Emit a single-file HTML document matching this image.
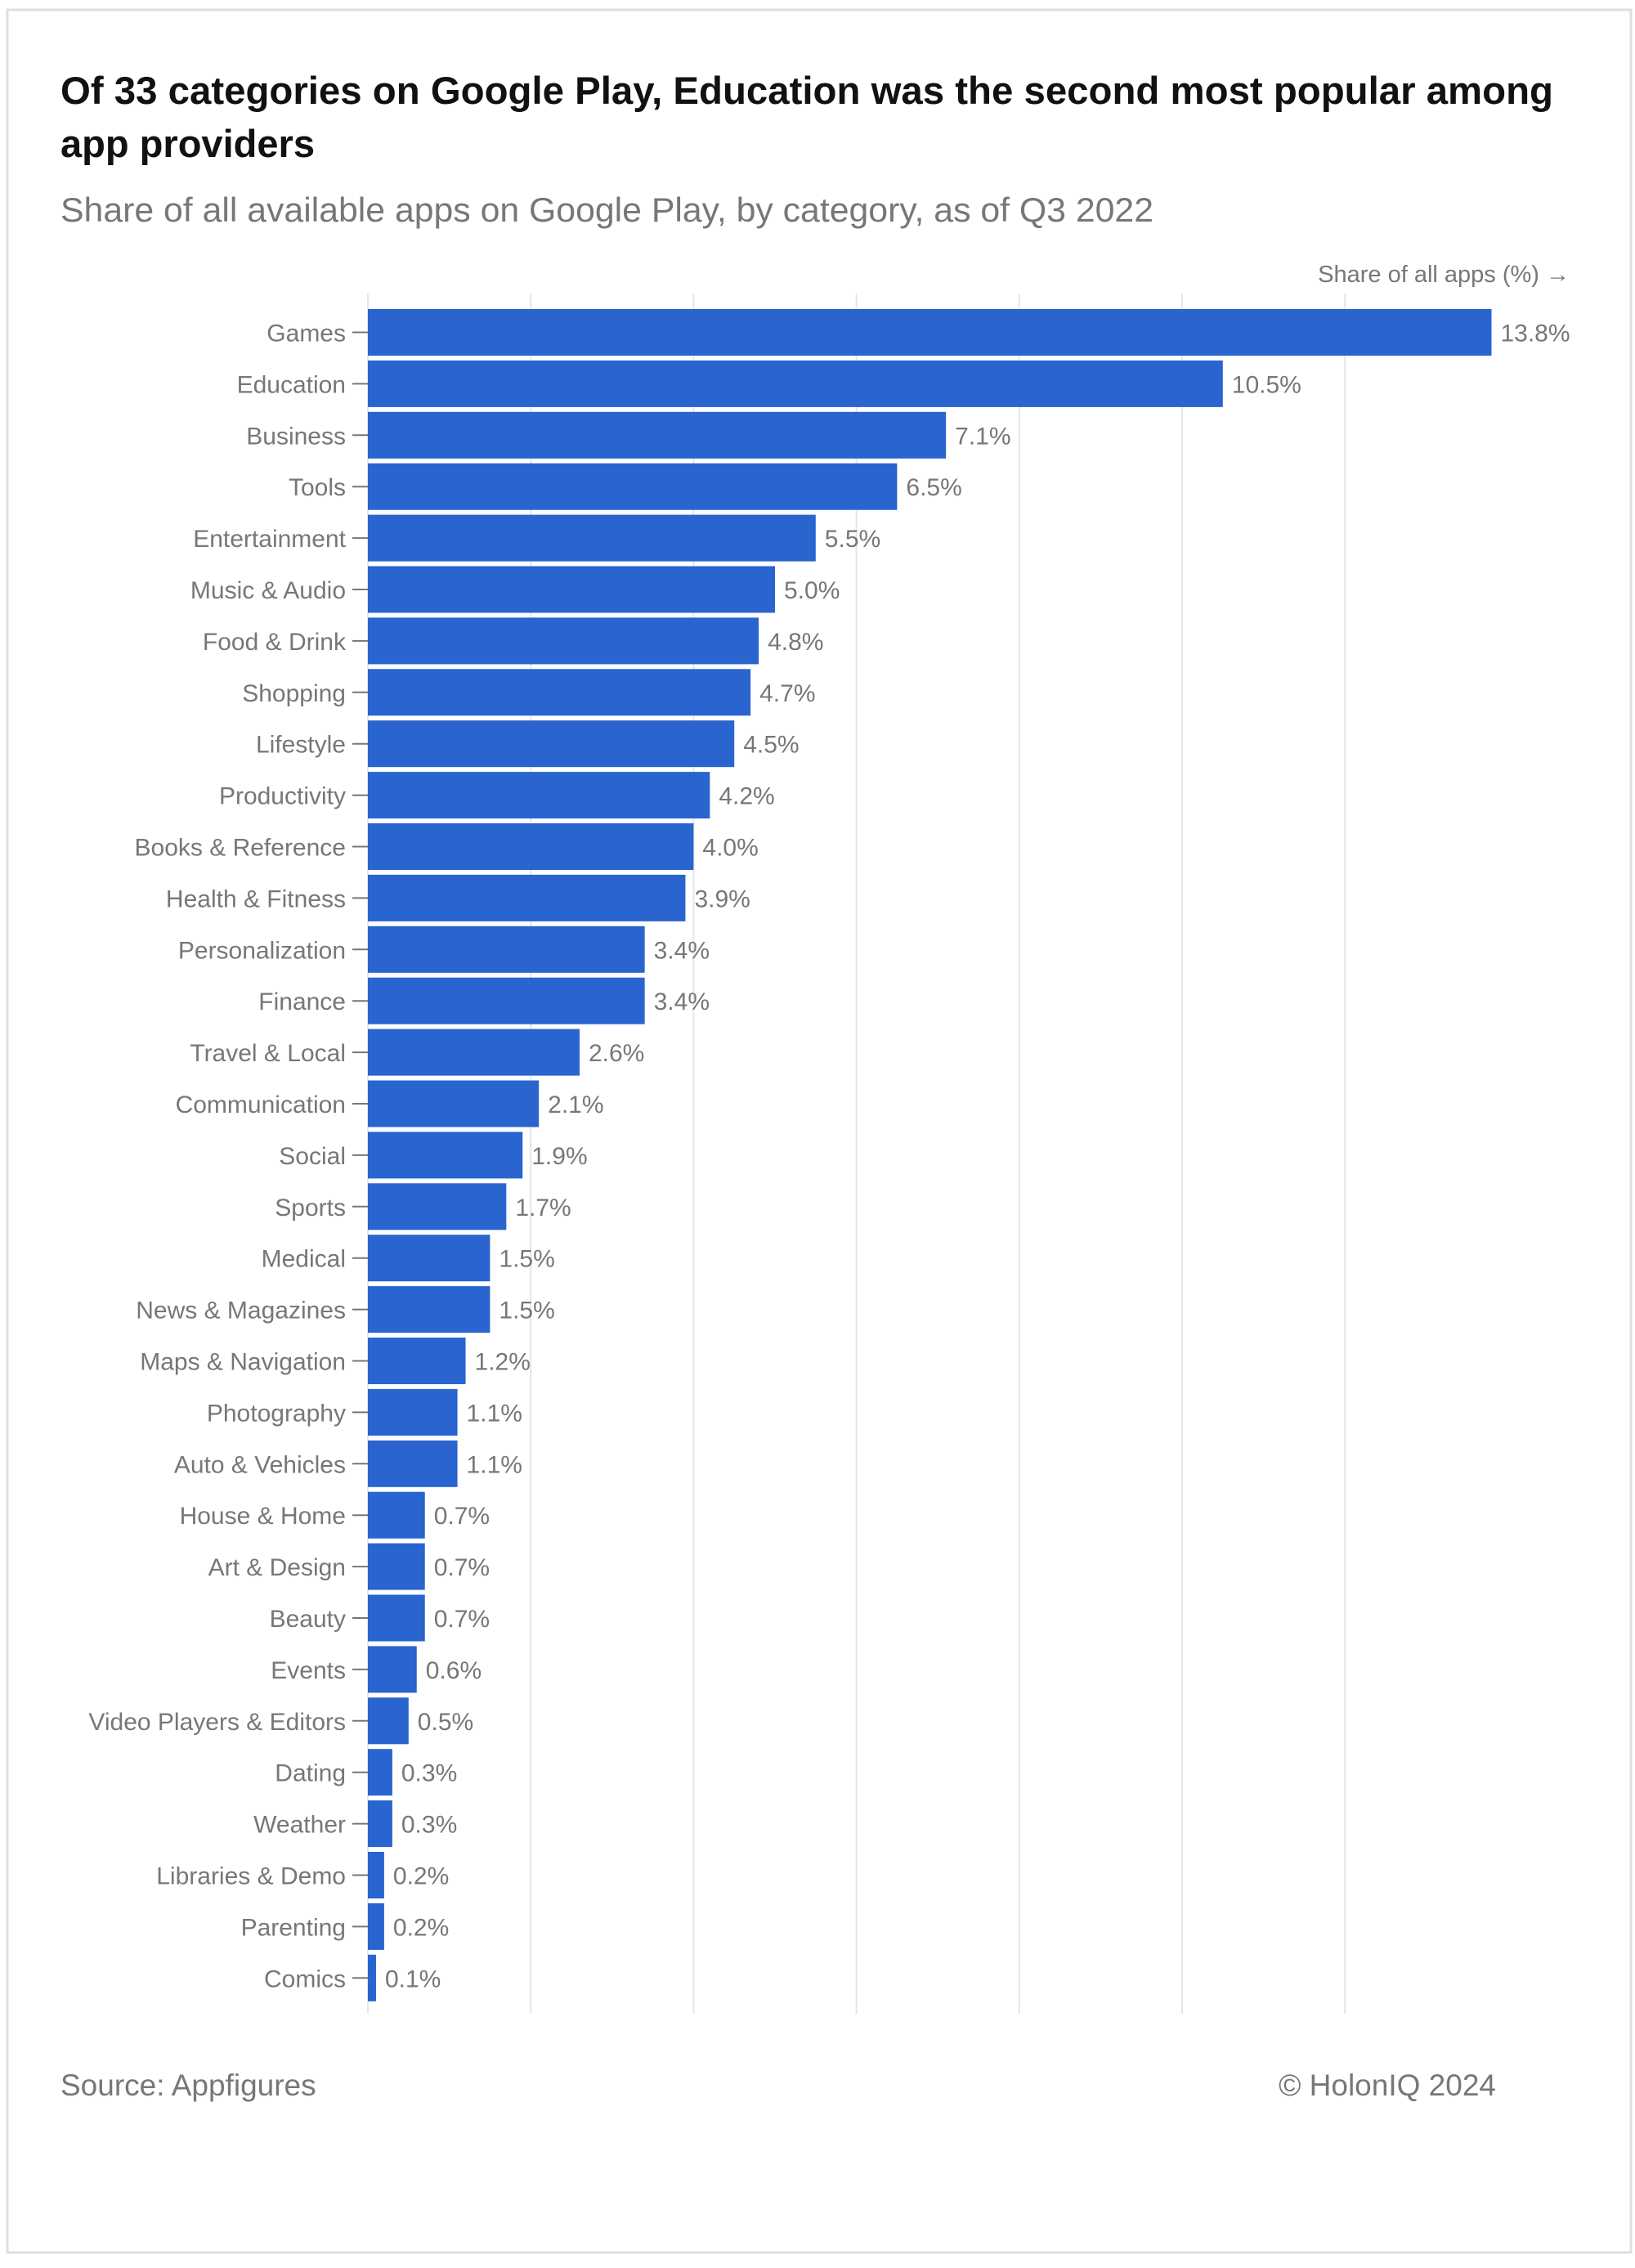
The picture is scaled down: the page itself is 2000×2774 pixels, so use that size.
<!DOCTYPE html>
<html><head><meta charset="utf-8"><style>
html,body{margin:0;padding:0;background:#fff;}
body{width:2000px;height:2769px;position:relative;overflow:hidden;font-family:"Liberation Sans",sans-serif;}
</style></head><body>
<svg width="2000" height="2769" xmlns="http://www.w3.org/2000/svg">
<rect x="9" y="12" width="1986" height="2743" fill="#fff" stroke="#dedede" stroke-width="3"/>
<text x="74" y="127" font-size="47" font-weight="bold" fill="#111" textLength="1826" lengthAdjust="spacingAndGlyphs">Of 33 categories on Google Play, Education was the second most popular among</text>
<text x="74" y="192" font-size="47" font-weight="bold" fill="#111" textLength="311" lengthAdjust="spacingAndGlyphs">app providers</text>
<text x="74" y="271" font-size="42" fill="#777" textLength="1337" lengthAdjust="spacingAndGlyphs">Share of all available apps on Google Play, by category, as of Q3 2022</text>
<text x="1920" y="345" font-size="29" fill="#777" text-anchor="end">Share of all apps (%) →</text>
<g id="grid"></g>
<g id="bars"></g>
<text x="74" y="2563" font-size="37" fill="#777">Source: Appfigures</text>
<text x="1830" y="2563" font-size="37" fill="#777" text-anchor="end">© HolonIQ 2024</text>
</svg>
<script>
const categories=["Games","Education","Business","Tools","Entertainment","Music & Audio","Food & Drink","Shopping","Lifestyle","Productivity","Books & Reference","Health & Fitness","Personalization","Finance","Travel & Local","Communication","Social","Sports","Medical","News & Magazines","Maps & Navigation","Photography","Auto & Vehicles","House & Home","Art & Design","Beauty","Events","Video Players & Editors","Dating","Weather","Libraries & Demo","Parenting","Comics"];
const values=[13.8,10.5,7.1,6.5,5.5,5.0,4.8,4.7,4.5,4.2,4.0,3.9,3.4,3.4,2.6,2.1,1.9,1.7,1.5,1.5,1.2,1.1,1.1,0.7,0.7,0.7,0.6,0.5,0.3,0.3,0.2,0.2,0.1];
const valueLabels=["13.8%","10.5%","7.1%","6.5%","5.5%","5.0%","4.8%","4.7%","4.5%","4.2%","4.0%","3.9%","3.4%","3.4%","2.6%","2.1%","1.9%","1.7%","1.5%","1.5%","1.2%","1.1%","1.1%","0.7%","0.7%","0.7%","0.6%","0.5%","0.3%","0.3%","0.2%","0.2%","0.1%"];
const gridTicks=[0,2,4,6,8,10,12];
const NS="http://www.w3.org/2000/svg";
const x0=450, pxPer=99.6, yTop=378, pitch=62.9, bh=57;
const xs=v=>x0+v*pxPer;
const ys=i=>yTop+i*pitch;
const grid=document.getElementById('grid'), bars=document.getElementById('bars');
gridTicks.forEach(t=>{
  const l=document.createElementNS(NS,'line');
  l.setAttribute('x1',xs(t));l.setAttribute('x2',xs(t));
  l.setAttribute('y1',359);l.setAttribute('y2',2463);
  l.setAttribute('stroke','#e6e6e6');l.setAttribute('stroke-width','2');
  
  
  grid.appendChild(l);
});
categories.forEach((c,i)=>{
  const y=ys(i);
  const r=document.createElementNS(NS,'rect');
  r.setAttribute('x',x0);r.setAttribute('y',y);
  r.setAttribute('width',Math.max(values[i]*pxPer,1));r.setAttribute('height',bh);
  r.setAttribute('fill','#2964cf');
  
  
  bars.appendChild(r);
  const tk=document.createElementNS(NS,'line');
  tk.setAttribute('x1',431);tk.setAttribute('x2',450);
  tk.setAttribute('y1',y+bh/2);tk.setAttribute('y2',y+bh/2);
  tk.setAttribute('stroke','#777');tk.setAttribute('stroke-width','2');
  
  
  bars.appendChild(tk);
  const lb=document.createElementNS(NS,'text');
  lb.setAttribute('x',423);lb.setAttribute('y',y+bh/2+11);
  lb.setAttribute('text-anchor','end');lb.setAttribute('font-size','30');lb.setAttribute('fill','#777');
  lb.textContent=c;
  
  
  bars.appendChild(lb);
  const vl=document.createElementNS(NS,'text');
  vl.setAttribute('x',xs(values[i])+11);vl.setAttribute('y',y+bh/2+11);
  vl.setAttribute('font-size','30');vl.setAttribute('fill','#777');
  vl.textContent=valueLabels[i];
  
  
  bars.appendChild(vl);
});
</script>
</body></html>
